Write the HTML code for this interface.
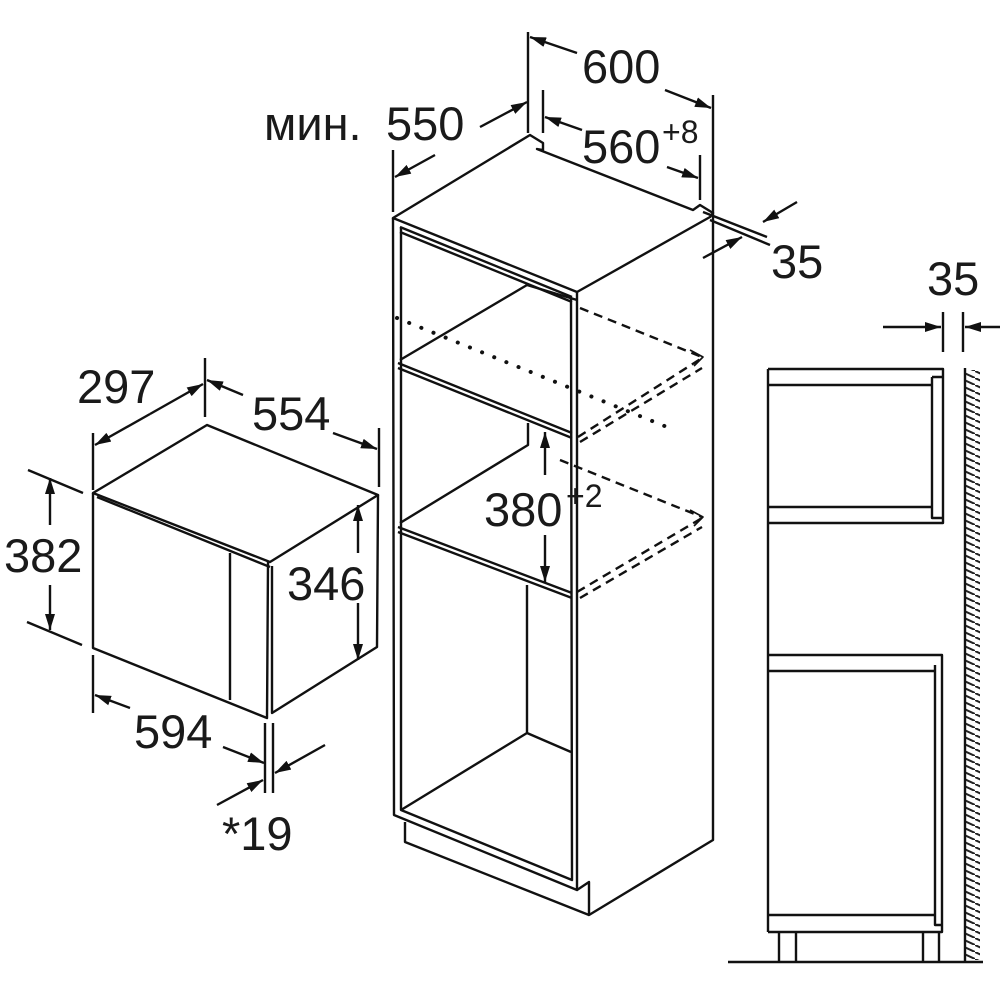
<!DOCTYPE html>
<html><head><meta charset="utf-8"><style>
html,body{margin:0;padding:0;background:#fff}
svg{display:block}
text{font-family:"Liberation Sans",sans-serif;fill:#1a1a1a}
</style></head><body>
<svg width="1000" height="1000" viewBox="0 0 1000 1000" xmlns="http://www.w3.org/2000/svg">
<defs>
<marker id="a" viewBox="0 0 16 10" refX="16" refY="5" markerWidth="16" markerHeight="10" markerUnits="userSpaceOnUse" orient="auto"><path d="M0,0 L16,5 L0,10 Z" fill="#111"/></marker>
<pattern id="h" width="15" height="7" patternUnits="userSpaceOnUse"><path d="M0,0 L15,7" stroke="#222" stroke-width="2"/></pattern>
</defs>
<g stroke="#111" stroke-width="2.4" fill="none" stroke-linejoin="round">
<!-- ===== Microwave ===== -->
<path d="M93,493 L207,425 L378,495 L270,562 Z"/>
<path d="M93,493 L93,648 L267,718 L268,562"/>
<path d="M97,497 L270,567"/>
<path d="M272,566 L272,713 L377,647 L378,495"/>
<path d="M230,553 L230,700"/>
<!-- 297 -->
<path d="M93,433 L93,490 M205,358 L205,417"/>
<path d="M150,414 L95,445" marker-end="url(#a)"/>
<path d="M150,414 L203,384" marker-end="url(#a)"/>
<!-- 554 -->
<path d="M379,428 L379,487"/>
<path d="M243,395 L207,380" marker-end="url(#a)"/>
<path d="M333,433 L377,449" marker-end="url(#a)"/>
<!-- 382 -->
<path d="M28,470 L83,493 M27,622 L82,645"/>
<path d="M50,525 L50,478" marker-end="url(#a)"/>
<path d="M50,585 L50,630" marker-end="url(#a)"/>
<!-- 346 -->
<path d="M358,553 L358,505" marker-end="url(#a)"/>
<path d="M358,603 L358,660" marker-end="url(#a)"/>
<!-- 594 -->
<path d="M93,655 L93,713"/>
<path d="M130,708 L95,695" marker-end="url(#a)"/>
<path d="M223,747 L264,763" marker-end="url(#a)"/>
<!-- 19 -->
<path d="M265,723 L265,793 M273,723 L273,793"/>
<path d="M325,745 L275,773" marker-end="url(#a)"/>
<path d="M217,805 L263,780" marker-end="url(#a)"/>

<!-- ===== Cabinet ===== -->
<path d="M393,218 L530,135 L543,143 L543,150 L537,149 L693,210 L700,205 L713,213 L710,217 L577,292 Z"/>
<path d="M400,227 L572,297 M400,232 L572,302"/>
<path d="M393,218 L394,815 L577,890 L577,292"/>
<path d="M401,227 L401,810 L572,880 L571,297"/>
<path d="M713,213 L713,840 L589,915 L589,882 L577,890"/>
<path d="M405,822 L405,842 L589,915"/>
<!-- upper shelf -->
<path d="M398,363 L572,433 M398,368 L572,438"/>
<path d="M400,360 L527,285 L577,300"/>
<path d="M528,423 L528,445 L400,523"/>
<!-- middle shelf -->
<path d="M398,527 L572,593 M398,532 L572,598"/>
<path d="M527,585 L527,733 L401,810 M527,733 L571,752"/>
<!-- dashed / dotted -->
<g stroke-dasharray="9,6">
<path d="M580,308 L702,357 M578,437 L702,358 M580,442 L702,368"/>
<path d="M560,460 L702,517 M577,592 L702,518 M580,598 L702,527"/>
</g>
<path d="M397,318 L667,427" stroke-width="4" stroke-dasharray="0.1,13" stroke-linecap="round"/>
<path d="M690,350 L703,357 L694,366 M690,510 L703,517 L694,526" stroke-width="1.6"/>
<!-- 380 -->
<path d="M545,475 L545,432" marker-end="url(#a)"/>
<path d="M545,535 L545,582" marker-end="url(#a)"/>
<!-- 600 -->
<path d="M528,32 L528,133 M713,95 L713,213"/>
<path d="M577,53 L530,37" marker-end="url(#a)"/>
<path d="M665,90 L711,108" marker-end="url(#a)"/>
<!-- 560 -->
<path d="M543,90 L543,133 M700,155 L700,200"/>
<path d="M582,130 L545,117" marker-end="url(#a)"/>
<path d="M667,167 L698,178" marker-end="url(#a)"/>
<!-- 550 -->
<path d="M393,150 L393,212"/>
<path d="M480,127 L527,102" marker-end="url(#a)"/>
<path d="M435,155 L395,177" marker-end="url(#a)"/>
<!-- 35 top -->
<path d="M703,212 L767,237 M710,220 L770,245"/>
<path d="M797,202 L763,222" marker-end="url(#a)"/>
<path d="M703,258 L742,237" marker-end="url(#a)"/>

<!-- ===== Side elevation ===== -->
<path d="M768,369 L943,369 L943,523 L768,523"/>
<path d="M768,385 L933,385 M768,507 L933,507"/>
<path d="M932,377 L942,377 M932,377 L932,518 L942,518"/>
<path d="M768,369 L768,932"/>
<path d="M768,655 L942,655 L942,932 L768,932"/>
<path d="M768,671 L935,671 M768,915 L935,915"/>
<path d="M935,665 L935,925 L942,925"/>
<path d="M779,932 V962 M796,932 V962 M923,932 V962 M939,932 V962"/>
<path d="M728,962 L983,962"/>
<path d="M965,368 L965,962"/>
<!-- 35 right -->
<path d="M943,312 L943,352 M963,312 L963,352"/>
<path d="M883,327 L941,327" marker-end="url(#a)"/>
<path d="M1000,327 L965,327" marker-end="url(#a)"/>
</g>
<rect x="966" y="370" width="14" height="590" fill="url(#h)"/>

<!-- Labels -->
<g font-size="47">
<text x="582" y="83">600</text>
<text x="264" y="140">мин.</text>
<text x="386" y="140">550</text>
<text x="582" y="163">560</text>
<text x="662" y="143" font-size="32">+8</text>
<text x="771" y="278">35</text>
<text x="927" y="295">35</text>
<text x="77" y="403">297</text>
<text x="252" y="430">554</text>
<text x="4" y="572">382</text>
<text x="287" y="600">346</text>
<text x="134" y="748">594</text>
<text x="222" y="850">*19</text>
<text x="484" y="526">380</text>
<text x="566" y="507" font-size="32">+2</text>
</g>
</svg>
</body></html>
